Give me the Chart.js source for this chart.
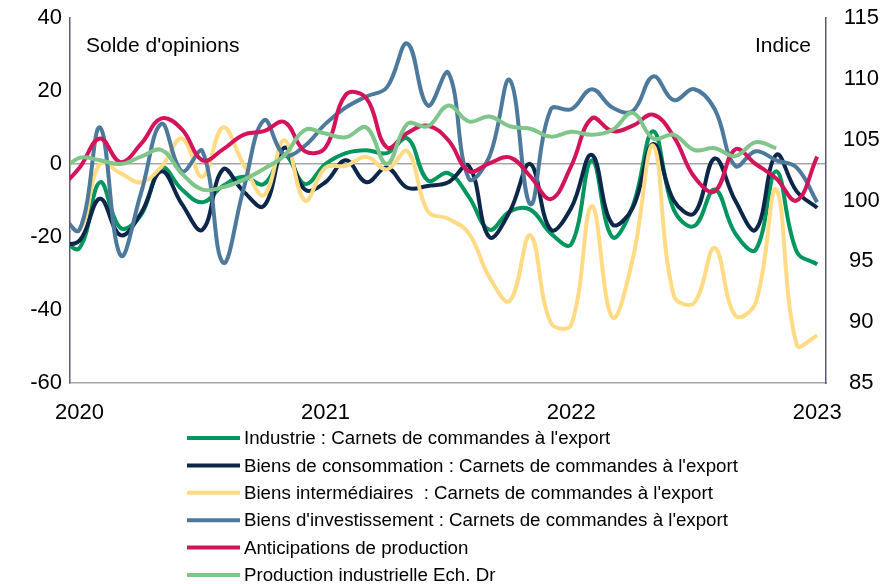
<!DOCTYPE html>
<html>
<head>
<meta charset="utf-8">
<script src="https://cdn.jsdelivr.net/npm/chart.js@4.4.1/dist/chart.umd.min.js"></script>
<style>
  html, body { margin: 0; padding: 0; background: #ffffff; }
  #wrap { width: 891px; height: 584px; position: relative; }
</style>
</head>
<body>
<div id="wrap"><canvas id="c" width="891" height="584"></canvas></div>
<script>
// Months (Dec 2019 .. Jan 2023)
const months = ['2019-12',
  '2020-01','2020-02','2020-03','2020-04','2020-05','2020-06','2020-07','2020-08','2020-09','2020-10','2020-11','2020-12',
  '2021-01','2021-02','2021-03','2021-04','2021-05','2021-06','2021-07','2021-08','2021-09','2021-10','2021-11','2021-12',
  '2022-01','2022-02','2022-03','2022-04','2022-05','2022-06','2022-07','2022-08','2022-09','2022-10','2022-11','2022-12',
  '2023-01'];

const yearTickLabels = ['2020', '2021', '2022', '2023'];
const yearTickMonths = ['2020-01', '2021-01', '2022-01', '2023-01'];

const seriesNames = [
  "Industrie : Carnets de commandes à l'export",
  "Biens de consommation : Carnets de commandes à l'export",
  "Biens intermédiaires  : Carnets de commandes à l'export",
  "Biens d'investissement : Carnets de commandes à l'export",
  "Anticipations de production",
  "Production industrielle Ech. Dr"
];

const industrie = [-20, -23, -5, -17.5, -14, -1, -7, -10.5, -6, -3.5, -5.5, 2.5, -5.5,
  0, 3, 3.8, 3, 7, -4.5, -2.5, -9, -18, -13, -12.5, -19,
  -22, 1, -20, -11.5, 9, -12.5, -17, -7, -19, -23.5, -2, -24,
  -27.5];
const consommation = [-22, -21, -9.5, -19.5, -13.5, -2, -11, -18, -1.5, -7.5, -11.5, 4.5, -7,
  -5, 1, -5, -1, -6.5, -6, -5, -0.5, -20, -13, 0, -18,
  -12, 2.5, -16.5, -12, 5.5, -10, -13.5, 1.5, -10, -18, 2.5, -7.5,
  -12];
const intermediaires = [-14, -18, 0, -2.5, -5, -0.7, 7, -3.5, 10, 0, -8.5, 6.5, -10,
  -1, -0.5, 2, -1.5, 3.5, -13, -15, -19, -31, -37.5, -19.5, -43.5,
  -44, -11.5, -42, -26, 5, -36, -38, -23, -41.5, -38, -7, -49.5,
  -47];
const investissement = [-13, -18, 10, -25, -8, 11, -2, 3.5, -27, -7, 12, 2.5, 5,
  11, 15.5, 18.5, 21, 33, 16, 25, -4, 2, 23, -11, 15,
  15, 20.5, 15.5, 14.5, 24, 17.5, 20.5, 15, -0.5, 3.5, 1, -1,
  -10.5];
const anticipations = [-7, -1, 7, 0.5, 5.5, 12.5, 9.5, 1, 4, 8, 9, 11.5, 3.5,
  4.5, 19, 18, 4.5, 8.5, 10.5, 6.5, -2, 0.2, 1.8, -3.4, -9.6,
  -0.5, 12.5, 9, 10.5, 13.5, 7.5, -3.5, -7.5, 4, 0, -4, -10,
  2];
const productionIndus = [102.2, 103.5, 103.3, 103, 103.6, 104.15, 102.2, 100.9, 101.1, 101.7, 102.6, 103.7, 105.8,
  105.5, 105.2, 106, 103, 106.3, 106.1, 107.8, 106.5, 106.9, 106.1, 105.9, 105.25,
  105.65, 105.4, 105.8, 107.2, 105.1, 105.4, 104.15, 104.3, 103.65, 104.8, 104.3, null,
  null];

const colors = ['#00965e', '#0c2749', '#ffdb85', '#4d7a9c', '#d4145a', '#80c58a'];

function monthIndex(s) {
  const [y, m] = s.split('-').map(Number);
  return (y - 2020) * 12 + (m - 1);
}
function toPoints(vals) {
  return months.map((mo, i) => ({ x: monthIndex(mo), y: vals[i] }));
}

const allSeries = [industrie, consommation, intermediaires, investissement, anticipations, productionIndus];

const datasets = allSeries.map((vals, i) => ({
  label: seriesNames[i],
  data: toPoints(vals),
  borderColor: colors[i],
  backgroundColor: colors[i],
  borderWidth: 4,
  pointRadius: 0,
  tension: 0.4,
  fill: false,
  clip: 0,
  yAxisID: i === 5 ? 'y1' : 'y',
  order: 10 - i
}));

function zeroPad(scale) {
  scale.paddingTop = 0;
  scale.paddingBottom = 0;
  scale.paddingLeft = 0;
  scale.paddingRight = 0;
}

const annotPlugin = {
  id: 'annot',
  afterDraw(chart) {
    const ctx = chart.ctx;
    ctx.save();
    ctx.fillStyle = '#000000';
    ctx.font = '21px "Liberation Sans", Arial, sans-serif';
    ctx.textBaseline = 'alphabetic';
    ctx.textAlign = 'left';
    ctx.fillText("Solde d'opinions", 86, 52);
    ctx.textAlign = 'right';
    ctx.fillText('Indice', 811, 52);

    ctx.font = '18.7px "Liberation Sans", Arial, sans-serif';
    ctx.textAlign = 'left';
    ctx.textBaseline = 'middle';
    chart.data.datasets.forEach((ds, i) => {
      const y = 438 + i * 27.4;
      ctx.strokeStyle = ds.borderColor;
      ctx.lineWidth = 4;
      ctx.lineCap = 'butt';
      ctx.beginPath();
      ctx.moveTo(187, y);
      ctx.lineTo(240, y);
      ctx.stroke();
      ctx.fillStyle = '#000000';
      ctx.fillText(ds.label, 244, y + 1);
    });
    ctx.restore();
  }
};

Chart.defaults.font.family = '"Liberation Sans", Arial, sans-serif';
Chart.defaults.color = '#000000';

new Chart(document.getElementById('c'), {
  type: 'line',
  data: { datasets },
  plugins: [annotPlugin],
  options: {
    responsive: false,
    animation: false,
    devicePixelRatio: 1,
    layout: { autoPadding: false, padding: { top: 18, left: 0, right: 0, bottom: 0 } },
    elements: { line: { capBezierPoints: false } },
    plugins: { legend: { display: false }, tooltip: { enabled: false } },
    scales: {
      x: {
        type: 'linear',
        min: -0.464,
        max: 36.43,
        afterBuildTicks(scale) {
          scale.ticks = yearTickMonths.map(m => ({ value: monthIndex(m) }));
        },
        afterFit(scale) { scale.height = 584 - 383; zeroPad(scale); },
        ticks: {
          autoSkip: false,
          maxRotation: 0,
          padding: 17,
          font: { size: 22 },
          callback(value) {
            const idx = yearTickMonths.findIndex(m => monthIndex(m) === value);
            return idx >= 0 ? yearTickLabels[idx] : '';
          }
        },
        grid: { display: false, drawTicks: false },
        border: { display: true, color: '#a6a6a6', width: 1.5 }
      },
      y: {
        position: 'left',
        min: -60,
        max: 40,
        afterFit(scale) { scale.width = 70; zeroPad(scale); },
        ticks: { stepSize: 20, padding: 8, font: { size: 22 } },
        grid: {
          drawTicks: false,
          lineWidth: 1.5,
          color(ctx) { return ctx.tick && ctx.tick.value === 0 ? '#a6a6a6' : 'rgba(0,0,0,0)'; }
        },
        border: { display: true, color: '#5b5b78', width: 1.5 }
      },
      y1: {
        position: 'right',
        min: 85,
        max: 115,
        afterFit(scale) { scale.width = 891 - 826; zeroPad(scale); },
        ticks: { stepSize: 5, padding: 17, crossAlign: 'center', font: { size: 22 } },
        grid: { display: false, drawTicks: false },
        border: { display: true, color: '#5b5b78', width: 1.5 }
      }
    }
  }
});
</script>
</body>
</html>
